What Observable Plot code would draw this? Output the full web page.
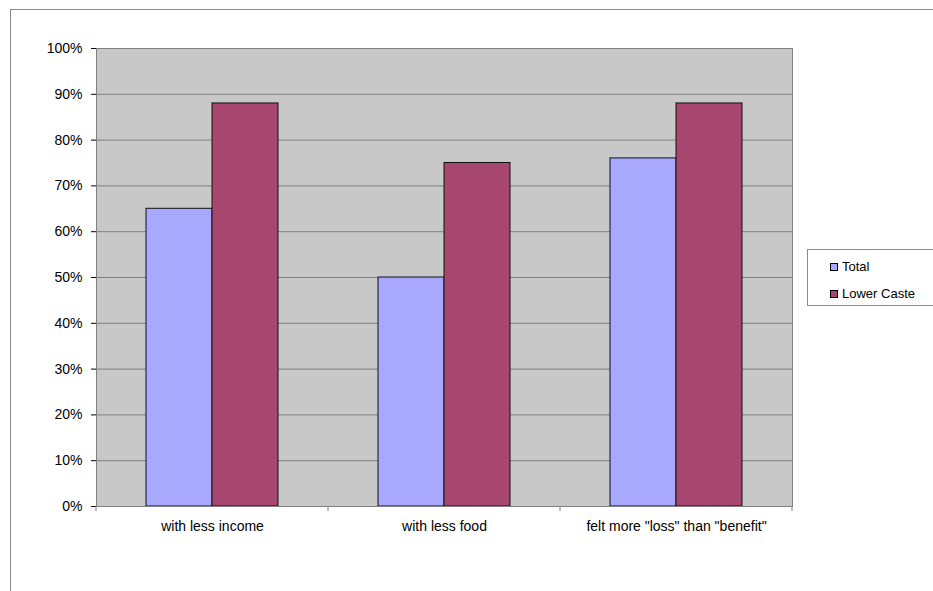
<!DOCTYPE html>
<html>
<head>
<meta charset="utf-8">
<script src="https://cdn.jsdelivr.net/npm/d3@7"></script>
<script src="https://cdn.jsdelivr.net/npm/@observablehq/plot@0.6"></script>
<style>
  html, body { margin: 0; padding: 0; background: #fff; }
  #wrap { position: relative; width: 933px; height: 591px; overflow: hidden; font-family: "Liberation Sans", Arial, sans-serif; }
  #border { position: absolute; left: 10px; top: 9px; right: -2px; bottom: -2px; border-top: 1px solid #8a8a8a; border-left: 1px solid #8a8a8a; }
  #legend { position: absolute; left: 807px; top: 249px; width: 140px; height: 55px; border: 1px solid #8a8a8a; background: #fff; font-size: 13px; color: #000; }
  .item { position: absolute; left: 22px; display: flex; align-items: center; }
  .sw { width: 6px; height: 6px; border: 1px solid #000; margin-right: 4px; }
  #chart { position: absolute; left: 0; top: 0; }
</style>
</head>
<body>
<div id="wrap">
  <div id="border"></div>
  <div id="chart"></div>
  <div id="legend"></div>
</div>
<script>
const categories = ["with less income", "with less food", "felt more \"loss\" than \"benefit\""];
const series = ["Total", "Lower Caste"];
const totalValues = [0.65, 0.50, 0.76];
const lowerCasteValues = [0.88, 0.75, 0.88];
const yTicks = [0, 0.1, 0.2, 0.3, 0.4, 0.5, 0.6, 0.7, 0.8, 0.9, 1.0];
const seriesColors = ["#a8a8ff", "#a7476f"];

const data = [];
categories.forEach((c, i) => {
  data.push({category: c, series: series[0], value: totalValues[i]});
  data.push({category: c, series: series[1], value: lowerCasteValues[i]});
});

const plot = Plot.plot({
  width: 933,
  height: 591,
  marginLeft: 95,
  marginRight: 140,
  marginTop: 48,
  marginBottom: 85,
  style: {fontFamily: "'Liberation Sans', Arial, sans-serif", fontSize: "14px", background: "transparent", color: "#000"},
  fx: {domain: categories, padding: 0, label: null, tickSize: 0, tickPadding: 15, axis: "bottom"},
  x: {domain: series, paddingInner: 0, paddingOuter: 0.75, axis: null},
  y: {domain: [0, 1], ticks: yTicks, tickFormat: d3.format(".0%"), label: null, tickSize: 5, tickPadding: 9},
  color: {domain: series, range: seriesColors},
  marks: [
    Plot.frame({fill: "#c8c8c8", facet: "super"}),
    Plot.gridY(yTicks, {stroke: "#808080", strokeOpacity: 1, strokeWidth: 1}),
    Plot.barY(data, {fx: "category", x: "series", y: "value", fill: "series", stroke: "#111", strokeWidth: 1}),
    Plot.frame({stroke: "#808080", facet: "super"})
  ]
});
document.getElementById("chart").appendChild(plot);

// category separator ticks below the axis, placed via the fx / y scales
const fxs = plot.scale("fx");
const ys = plot.scale("y");
const y0 = ys.apply(0);
const bounds = categories.map(c => fxs.apply(c));
bounds.push(fxs.apply(categories[categories.length - 1]) + fxs.bandwidth);
d3.select(plot).append("g")
  .selectAll("line").data(bounds).join("line")
  .attr("x1", d => d).attr("x2", d => d)
  .attr("y1", y0).attr("y2", y0 + 5)
  .attr("stroke", "#808080");

// legend
const lg = document.getElementById("legend");
const rowsTop = [9, 36];
series.forEach((s, i) => {
  const it = document.createElement("div");
  it.className = "item";
  it.style.top = rowsTop[i] + "px";
  const sw = document.createElement("div");
  sw.className = "sw";
  sw.style.background = seriesColors[i];
  const t = document.createElement("span");
  t.textContent = s;
  it.appendChild(sw); it.appendChild(t);
  lg.appendChild(it);
});
</script>
</body>
</html>
